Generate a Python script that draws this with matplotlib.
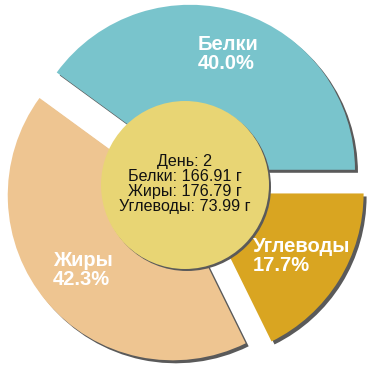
import matplotlib
matplotlib.use("Agg")
import matplotlib.pyplot as plt
from matplotlib.patches import Circle

# ── data ─────────────────────────────────────────────────────────────────────
names  = ["Белки", "Жиры", "Углеводы"]
grams  = [166.91, 176.79, 73.99]
colors = ["#79c4cc", "#eec591", "#d9a521"]
day    = 2

# label anchor (left edge, vertical centre) in pixel coords, y down
label_pos = [(198, 54), (53, 270), (253, 256)]

BG     = "#ffffff"
SHADOW = "#5a5a5a"
CENTER = "#e8d574"
W = H = 370

plt.rcParams["font.family"] = ["Liberation Sans", "DejaVu Sans"]

fig = plt.figure(figsize=(W / 100, H / 100), dpi=100, facecolor=BG)
ax = fig.add_axes([0, 0, 1, 1])

cx, cy = 185, 185
radius = 165
explode = [16] * len(grams)

# shadow, then the slices on top
ax.pie(grams, colors=[SHADOW] * len(grams), startangle=0, counterclock=True,
       radius=radius, center=(cx + 3, cy - 3), explode=explode,
       wedgeprops=dict(linewidth=0), frame=True)
ax.pie(grams, colors=colors, startangle=0, counterclock=True,
       radius=radius, center=(cx, cy), explode=explode,
       wedgeprops=dict(linewidth=0), frame=True)
ax.set_xlim(0, W)
ax.set_ylim(0, H)
ax.set_aspect("equal")
ax.axis("off")

# centre disc
ax.add_patch(Circle((cx + 2, cy - 2), 84, facecolor=SHADOW, linewidth=0, zorder=3))
ax.add_patch(Circle((cx, cy), 84, facecolor=CENTER, linewidth=0, zorder=4))

total = sum(grams)
for name, g, (lx, ly) in zip(names, grams, label_pos):
    ax.text(lx, H - ly, f"{name}\n{g / total * 100:.1f}%", ha="left", va="center",
            fontsize=14.5, fontweight="bold", color="white", linespacing=0.98, zorder=5)

info = [f"День: {day}"] + [f"{n}: {g:.2f} г" for n, g in zip(names, grams)]
ax.text(cx, H - 184, "\n".join(info), ha="center", va="center",
        fontsize=11.6, color="#111111", linespacing=1.0, zorder=5)

fig.savefig("out.png", dpi=100, facecolor=BG)
